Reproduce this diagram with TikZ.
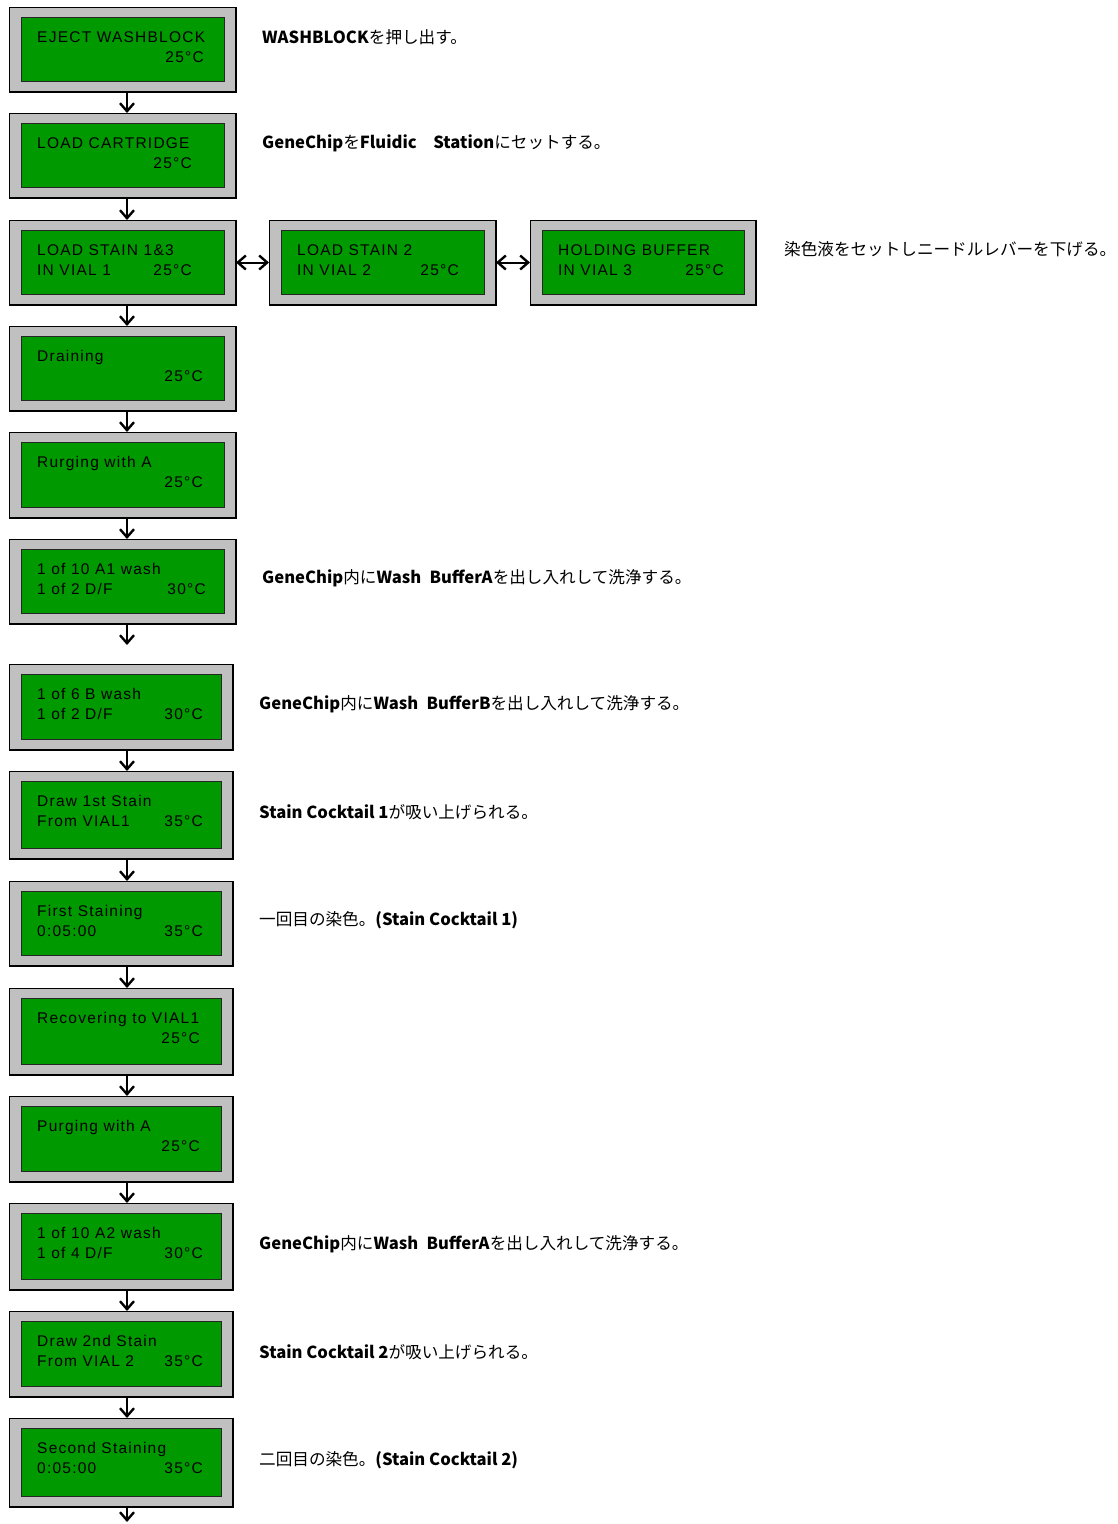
\documentclass[tikz,border=0pt]{standalone}
\usepackage{fontspec}
\setmainfont{Liberation Sans}
\newfontfamily\lcdfont[LetterSpace=8]{Liberation Sans}
\newfontfamily\jp{Noto Sans CJK JP}
\usetikzlibrary{arrows.meta}
\definecolor{lcdgreen}{HTML}{009900}
\definecolor{bezel}{HTML}{C0C0C0}
\tikzset{
  outerbox/.style={draw=black, line width=1pt, fill=bezel, inner sep=0pt, outer sep=0pt, anchor=north west},
  innerbox/.style={draw=black!85, line width=1pt, fill=lcdgreen, inner sep=0pt, outer sep=0pt},
  lcdtext/.style={inner sep=0pt, font=\lcdfont\fontsize{15.5}{17}\selectfont, text=black},
  note/.style={inner sep=0pt, anchor=west, font=\jp\fontsize{16.6}{18}\selectfont},
  barb/.tip={Straight Barb[length=8pt,width=14pt,line width=2.4pt]},
  arr/.style={line width=2pt, -barb},
  darr/.style={line width=2pt, barb-barb},
}
% name, left, top, right, bottom, line1, line2, temp, temp right edge
\newcommand\lcdbox[9]{%
  \node[outerbox, minimum width={#4-#2}, minimum height={#5-#3}] (#1) at (#2,#3) {};
  \draw[line width=1.6pt] (#1.south west) -- (#1.south east) -- (#1.north east);
  \node[innerbox, minimum width={#4-#2-24}, minimum height={#5-#3-21}] (#1i) at (#1.center) {};
  \node[lcdtext, anchor=base west] (#1a) at (#2+28,#3+35) {#6};
  \node[lcdtext, anchor=base west] (#1b) at (#2+28,#3+55) {#7};
  \node[lcdtext, anchor=base east] (#1t) at (#9,#3+55) {#8};
}
\begin{document}
\begin{tikzpicture}[x=1pt,y=-1pt]
\useasboundingbox[fill=white] (0,0) rectangle (1117,1524);
\lcdbox{b1}{9}{7}{236}{92}{EJECT WASHBLOCK}{}{25°C}{204}
\lcdbox{b2}{9}{113}{236}{198}{LOAD CARTRIDGE}{}{25°C}{192}
\lcdbox{b3}{9}{220}{236}{305}{LOAD STAIN 1\&3}{IN VIAL 1}{25°C}{192}
\lcdbox{b3b}{269}{220}{496}{305}{LOAD STAIN 2}{IN VIAL 2}{25°C}{459}
\lcdbox{b3c}{530}{220}{756}{305}{HOLDING BUFFER}{IN VIAL 3}{25°C}{724}
\lcdbox{b4}{9}{326}{236}{411}{Draining}{}{25°C}{203}
\lcdbox{b5}{9}{432}{236}{518}{Rurging with A}{}{25°C}{203}
\lcdbox{b6}{9}{539}{236}{624}{1 of 10 A1 wash}{1 of 2 D/F}{30°C}{206}
\lcdbox{b7}{9}{664}{233}{750}{1 of 6 B wash}{1 of 2 D/F}{30°C}{203}
\lcdbox{b8}{9}{771}{233}{859}{Draw 1st Stain}{From VIAL1}{35°C}{203}
\lcdbox{b9}{9}{881}{233}{966}{First Staining}{0:05:00}{35°C}{203}
\lcdbox{b10}{9}{988}{233}{1075}{Recovering to VIAL1}{}{25°C}{200}
\lcdbox{b11}{9}{1096}{233}{1182}{Purging with A}{}{25°C}{200}
\lcdbox{b12}{9}{1203}{233}{1290}{1 of 10 A2 wash}{1 of 4 D/F}{30°C}{203}
\lcdbox{b13}{9}{1311}{233}{1397}{Draw 2nd Stain}{From VIAL 2}{35°C}{203}
\lcdbox{b14}{9}{1418}{233}{1507}{Second Staining}{0:05:00}{35°C}{203}
\coordinate (e6) at (127,645);
\coordinate (e14) at (127,1522);
% vertical connectors
\foreach \a/\b in {b1/b2,b2/b3,b3/b4,b4/b5,b5/b6,b7/b8,b8/b9,b9/b10,b10/b11,b11/b12,b12/b13,b13/b14}{
  \draw[arr] (\a.south -| e6) -- (\b.north -| e6);
}
\draw[arr] (b6.south -| e6) -- (e6);
\draw[arr] (b14.south -| e14) -- (e14);
\draw[darr] (b3.east) -- (b3b.west);
\draw[darr] (b3b.east) -- (b3c.west);
% notes
\node[note] (n1) at (262,37) {\textbf{WASHBLOCK}を押し出す。};
\node[note] (n2) at (262,143) {\textbf{GeneChip}を\textbf{Fluidic\quad Station}にセットする。};
\node[note] (n3) at (784,249) {染色液をセットしニードルレバーを下げる。};
\node[note] (n6) at (262,578) {\textbf{GeneChip}内に\textbf{Wash\enspace BufferA}を出し入れして洗浄する。};
\node[note] (n7) at (259,704) {\textbf{GeneChip}内に\textbf{Wash\enspace BufferB}を出し入れして洗浄する。};
\node[note] (n8) at (259,812) {\textbf{Stain Cocktail 1}が吸い上げられる。};
\node[note] (n9) at (259,920) {一回目の染色。\textbf{(Stain Cocktail 1)}};
\node[note] (n12) at (259,1244) {\textbf{GeneChip}内に\textbf{Wash\enspace BufferA}を出し入れして洗浄する。};
\node[note] (n13) at (259,1352) {\textbf{Stain Cocktail 2}が吸い上げられる。};
\node[note] (n14) at (259,1460) {二回目の染色。\textbf{(Stain Cocktail 2)}};
\end{tikzpicture}
\end{document}
